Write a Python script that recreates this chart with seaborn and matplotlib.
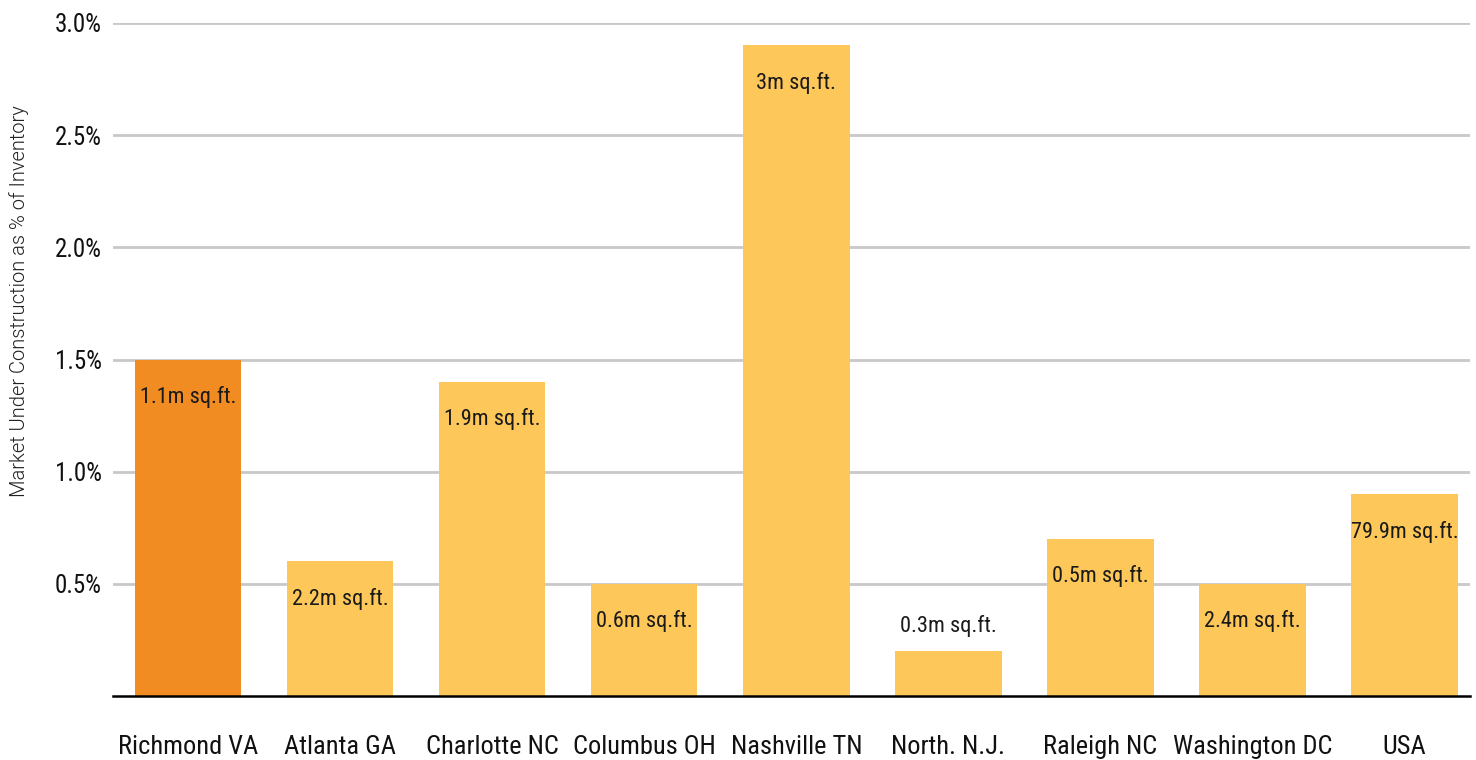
import matplotlib
matplotlib.use("Agg")
import matplotlib.pyplot as plt
import seaborn as sns
import pandas as pd
from matplotlib.ticker import FixedLocator, FixedFormatter

markets = ["Richmond VA", "Atlanta GA", "Charlotte NC", "Columbus OH", "Nashville TN",
           "North. N.J.", "Raleigh NC", "Washington DC", "USA"]
pct_under_construction = [1.5, 0.6, 1.4, 0.5, 2.9, 0.2, 0.7, 0.5, 0.9]
sqft_labels = ["1.1m sq.ft.", "2.2m sq.ft.", "1.9m sq.ft.", "0.6m sq.ft.", "3m sq.ft.",
               "0.3m sq.ft.", "0.5m sq.ft.", "2.4m sq.ft.", "79.9m sq.ft."]
y_ticks = [0.5, 1.0, 1.5, 2.0, 2.5, 3.0]
y_tick_labels = ["0.5%", "1.0%", "1.5%", "2.0%", "2.5%", "3.0%"]

ORANGE = "#F18C22"
YELLOW = "#FDC859"
palette = [ORANGE] + [YELLOW] * (len(markets) - 1)

sns.set_theme(style="white")
plt.rcParams['font.family'] = ['Roboto Condensed', 'DejaVu Sans']

df = pd.DataFrame({"market": markets, "pct": pct_under_construction})

fig = plt.figure(figsize=(14.76, 7.6), dpi=100)
ax = fig.add_axes([113/1476, 64/760, (1470-113)/1476, (696-23)/760])

sns.barplot(data=df, x="market", y="pct", hue="market", palette=palette,
            legend=False, width=0.70, saturation=1, linewidth=0, edgecolor="none",
            ax=ax, zorder=3)

ax.set_ylim(0, 3.0)
ax.set_xlim(-0.493, 8.43)
ax.yaxis.set_major_locator(FixedLocator(y_ticks))
ax.yaxis.set_major_formatter(FixedFormatter(y_tick_labels))
ax.grid(axis="y", color="#C8C8C8", linewidth=2, zorder=0)
ax.set_axisbelow(True)
for s in ["left", "right", "top"]:
    ax.spines[s].set_visible(False)
ax.spines["bottom"].set_color("black")
ax.spines["bottom"].set_linewidth(1.8)
ax.spines["bottom"].set_zorder(5)

ax.tick_params(axis="y", labelsize=18, pad=8, length=0, colors="#111111")
ax.tick_params(axis="x", labelsize=19, pad=28, length=0, colors="#111111")
ax.set_xlabel("")
ax.set_ylabel("Market Under Construction as % of Inventory", fontsize=14.5,
              color="#222222", fontweight=300, family=["Roboto", "DejaVu Sans"])
ax.yaxis.set_label_coords(-0.0619, 0.587)

for i, (v, lab) in enumerate(zip(pct_under_construction, sqft_labels)):
    if v < 0.4:
        ax.annotate(lab, (i, v), xytext=(0, 18), textcoords="offset points",
                    ha="center", va="center", fontsize=16, color="#1a1a1a", zorder=6)
    else:
        ax.annotate(lab, (i, v), xytext=(0, -27), textcoords="offset points",
                    ha="center", va="center", fontsize=16, color="#1a1a1a", zorder=6)

fig.savefig("out.png", dpi=100)
